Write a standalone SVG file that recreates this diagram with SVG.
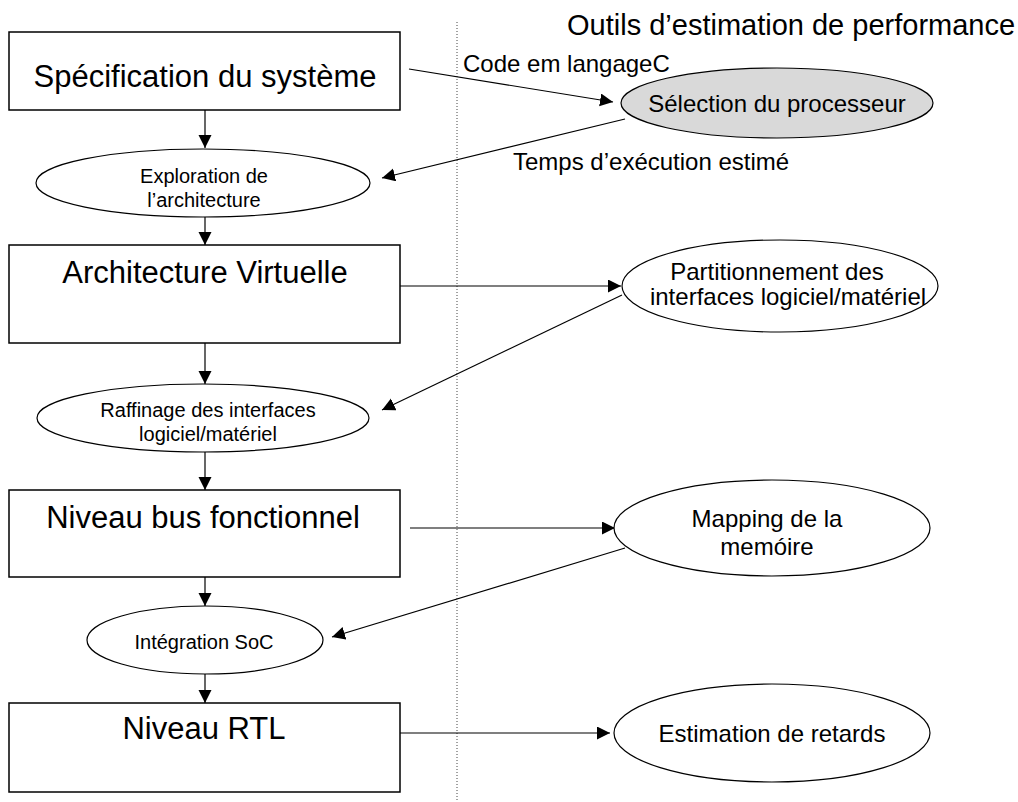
<svg xmlns="http://www.w3.org/2000/svg" width="1018" height="802" viewBox="0 0 1018 802">
<defs>
<marker id="ah" markerUnits="userSpaceOnUse" markerWidth="14" markerHeight="14" refX="13" refY="6.5" orient="auto">
<path d="M0,0 L13,6.5 L0,13 z" fill="#000"/>
</marker>
<style>
.box{fill:#fff;stroke:#000;stroke-width:1.5}
.ell{fill:#fff;stroke:#000;stroke-width:1.2}
.gray{fill:#d9d9d9;stroke:#000;stroke-width:1.2}
.c{fill:none;stroke:#000;stroke-width:1.2}
.ca{fill:none;stroke:#000;stroke-width:1.2;marker-end:url(#ah)}
text{font-family:"Liberation Sans",Arial,sans-serif;fill:#000}
.big{font-size:31px}
.mid{font-size:24px}
.sm{font-size:20px}
.m{text-anchor:middle}
</style>
</defs>
<rect width="1018" height="802" fill="#fff"/>
<line x1="457" y1="22" x2="457" y2="802" stroke="#444" stroke-width="1" stroke-dasharray="1,2"/>
<text x="567" y="35" font-size="29">Outils d’estimation de performance</text>

<g id="connectors">
<line class="ca" x1="205" y1="110" x2="205" y2="148"/>
<line class="ca" x1="205" y1="217" x2="205" y2="245"/>
<line class="ca" x1="205" y1="343" x2="205" y2="384"/>
<line class="ca" x1="205" y1="452" x2="205" y2="490"/>
<line class="ca" x1="205" y1="577" x2="205" y2="606"/>
<line class="ca" x1="205" y1="674" x2="205" y2="703"/>
<line class="ca" x1="409" y1="69" x2="613" y2="102"/>
<line class="ca" x1="625" y1="119" x2="382" y2="178"/>
<line class="ca" x1="400" y1="286" x2="621" y2="286"/>
<line class="ca" x1="622" y1="295" x2="382" y2="410"/>
<line class="ca" x1="410" y1="528" x2="615" y2="528"/>
<line class="ca" x1="625" y1="548" x2="332" y2="637"/>
<line class="ca" x1="400" y1="733" x2="610" y2="733"/>
<text class="mid" x="463" y="72">Code em langageC</text>
<text class="mid" x="513" y="170">Temps d’exécution estimé</text>
</g>

<g id="spec">
<rect class="box" x="9" y="32" width="391" height="78"/>
<text class="big m" x="205" y="87">Spécification du système</text>
</g>
<g id="exploration">
<ellipse class="ell" cx="203" cy="183" rx="167" ry="34"/>
<text class="sm m" x="204" y="183">Exploration de</text>
<text class="sm m" x="204" y="207">l’architecture</text>
</g>
<g id="archi">
<rect class="box" x="9" y="245" width="391" height="98"/>
<text class="big m" x="205" y="283">Architecture Virtuelle</text>
</g>
<g id="raffinage">
<ellipse class="ell" cx="203" cy="418" rx="166" ry="34"/>
<text class="sm m" x="208" y="417">Raffinage des interfaces</text>
<text class="sm m" x="208" y="441">logiciel/matériel</text>
</g>
<g id="bus">
<rect class="box" x="9" y="490" width="391" height="87"/>
<text class="big m" x="203" y="528">Niveau bus fonctionnel</text>
</g>
<g id="integration">
<ellipse class="ell" cx="205" cy="640" rx="118" ry="34"/>
<text class="sm m" x="204" y="649">Intégration SoC</text>
</g>
<g id="rtl">
<rect class="box" x="9" y="703" width="391" height="89"/>
<text class="big m" x="204" y="739">Niveau RTL</text>
</g>
<g id="selection">
<ellipse class="gray" cx="777" cy="103" rx="156" ry="35"/>
<text class="mid m" x="777" y="112">Sélection du processeur</text>
</g>
<g id="partitionnement">
<ellipse class="ell" cx="780" cy="286" rx="158" ry="46"/>
<text class="mid m" x="777" y="280">Partitionnement des</text>
<text class="mid m" x="788" y="305">interfaces logiciel/matériel</text>
</g>
<g id="mapping">
<ellipse class="ell" cx="772" cy="528" rx="158" ry="48"/>
<text class="mid m" x="767" y="527">Mapping de la</text>
<text class="mid m" x="767" y="555">memóire</text>
</g>
<g id="estimation">
<ellipse class="ell" cx="772" cy="733" rx="158" ry="49"/>
<text class="mid m" x="772" y="742">Estimation de retards</text>
</g>
</svg>
